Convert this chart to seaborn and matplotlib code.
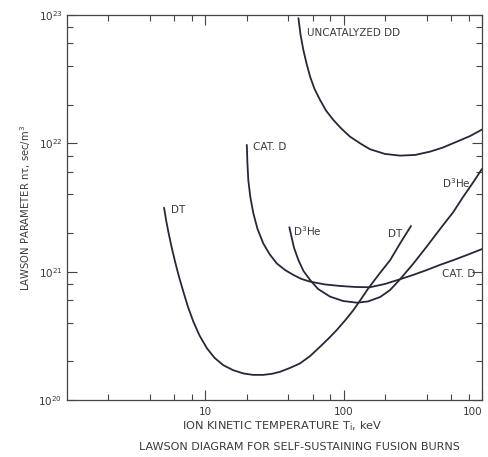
import numpy as np
import pandas as pd
import matplotlib
matplotlib.use("Agg")
import matplotlib.pyplot as plt
import matplotlib.ticker as mticker
import seaborn as sns

# ---- data ----
dt_T = [5.05, 5.22, 5.42, 5.72, 6.06, 6.48, 6.96, 7.52, 8.22, 9.11, 10.3, 11.7, 13.5, 15.9,
        18.9, 22.2, 26.3, 30.4, 34.8, 41.1, 48.5, 57.3, 67.6, 77.3, 89.3, 102.5, 118, 134,
        151, 181, 217, 256, 307]
dt_nt = [3.15e21, 2.53e21, 2.05e21, 1.56e21, 1.20e21, 9.09e20, 6.98e20, 5.31e20, 4.08e20,
         3.18e20, 2.53e20, 2.13e20, 1.87e20, 1.71e20, 1.61e20, 1.57e20, 1.57e20, 1.60e20,
         1.66e20, 1.78e20, 1.93e20, 2.20e20, 2.60e20, 2.99e20, 3.51e20, 4.17e20, 5.03e20,
         6.13e20, 7.42e20, 9.60e20, 1.23e21, 1.66e21, 2.27e21]

catd_T = [20.0, 20.2, 20.5, 21.2, 22.3, 23.9, 26.3, 29.2, 32.9, 37.8, 43.4, 49.7, 57.3, 73.5,
          94.3, 121, 155, 199, 256, 318, 399, 498, 621, 794, 1000]
catd_nt = [9.72e21, 7.03e21, 5.18e21, 3.82e21, 2.85e21, 2.15e21, 1.66e21, 1.37e21, 1.16e21,
           1.03e21, 9.43e20, 8.77e20, 8.36e20, 7.95e20, 7.74e20, 7.60e20, 7.56e20, 8.02e20,
           8.73e20, 9.43e20, 1.03e21, 1.13e21, 1.23e21, 1.36e21, 1.50e21]

dhe3_T = [40.6, 42.1, 43.9, 47.2, 51.4, 57.3, 65.4, 79.9, 99.2, 125, 150, 184, 217, 256, 318,
          399, 498, 621, 730, 867, 1000]
dhe3_nt = [2.22e21, 1.86e21, 1.53e21, 1.23e21, 1.01e21, 8.62e20, 7.33e20, 6.39e20, 5.91e20,
           5.73e20, 5.86e20, 6.35e20, 7.20e20, 8.73e20, 1.15e21, 1.57e21, 2.15e21, 2.92e21,
           3.82e21, 5.00e21, 6.32e21]

dd_T = [47.2, 48.9, 51.2, 54.1, 57.3, 61.7, 67.6, 74.7, 84.4, 95.9, 111, 132, 155, 199, 256,
        329, 422, 524, 658, 820, 1000]
dd_nt = [9.44e22, 7.00e22, 5.35e22, 4.16e22, 3.31e22, 2.65e22, 2.18e22, 1.80e22, 1.52e22,
         1.31e22, 1.13e22, 9.98e21, 9.00e21, 8.27e21, 8.02e21, 8.12e21, 8.62e21, 9.29e21,
         1.03e22, 1.14e22, 1.28e22]

x_ticks = [10, 100, 1000]
x_tick_labels = ["10", "100", "100"]
y_ticks = [1e20, 1e21, 1e22, 1e23]

curve_labels = ["UNCATALYZED DD", "CAT. D", "DT", "D$^3$He", "DT", "D$^3$He", "CAT. D"]
label_T = [54.4, 22.3, 5.64, 43.4, 211, 512, 512]
label_nt = [6.8e22, 8.9e21, 2.85e21, 1.91e21, 1.87e21, 4.47e21, 9.14e20]

# ---- plotting ----
sns.set_style("ticks")
plt.rcParams["font.family"] = ["DejaVu Sans"]
plt.rcParams["mathtext.default"] = "regular"

ink = "#27273a"
txt = "#3a3a3a"

fig = plt.figure(figsize=(4.88, 4.57), dpi=100)
ax = fig.add_axes([0.1367, 0.1247, 0.851, 0.8425])

frames = [
    pd.DataFrame({"T": dt_T, "nt": dt_nt, "curve": "DT"}),
    pd.DataFrame({"T": catd_T, "nt": catd_nt, "curve": "CAT. D"}),
    pd.DataFrame({"T": dhe3_T, "nt": dhe3_nt, "curve": "D3He"}),
    pd.DataFrame({"T": dd_T, "nt": dd_nt, "curve": "UNCATALYZED DD"}),
]
df = pd.concat(frames, ignore_index=True)
sns.lineplot(data=df, x="T", y="nt", units="curve", estimator=None, sort=False,
             color=ink, linewidth=1.3, ax=ax, legend=False)

ax.set_xscale("log")
ax.set_yscale("log")
ax.set_xlim(1, 1000)
ax.set_ylim(1e20, 1e23)

ax.xaxis.set_major_locator(mticker.FixedLocator(x_ticks))
ax.xaxis.set_major_formatter(mticker.FixedFormatter(x_tick_labels))
ax.xaxis.set_minor_locator(mticker.LogLocator(base=10, subs=(2, 4, 6, 8)))
ax.xaxis.set_minor_formatter(mticker.NullFormatter())
ax.yaxis.set_major_locator(mticker.FixedLocator(y_ticks))
ax.yaxis.set_major_formatter(mticker.LogFormatterMathtext())
ax.yaxis.set_minor_locator(mticker.LogLocator(base=10, subs=(2, 4, 6, 8)))
ax.yaxis.set_minor_formatter(mticker.NullFormatter())

ax.tick_params(which="both", direction="in", top=True, right=True, color="#444444",
               labelcolor=txt, labelsize=7.5)
ax.tick_params(which="major", length=7, width=0.8)
ax.tick_params(which="minor", length=4.3, width=0.8)
ax.tick_params(axis="x", which="major", pad=5)
ax.tick_params(axis="y", which="major", pad=3)
ax.get_xticklabels()[-1].set_ha("right")

for s in ax.spines.values():
    s.set_color("#444444")
    s.set_linewidth(0.9)

ax.set_xlabel("ION KINETIC TEMPERATURE T$_{i}$, keV", fontsize=8.2, color=txt)
ax.xaxis.set_label_coords(0.518, -0.05)
ax.set_ylabel("LAWSON PARAMETER n\u03c4, sec/m$^3$", fontsize=7.2, color=txt)
ax.yaxis.set_label_coords(-0.08, 0.5)

for s, xv, yv in zip(curve_labels, label_T, label_nt):
    ax.text(xv, yv, s, fontsize=7.5, color=txt, ha="left", va="baseline")

fig.text(0.6127, 0.0225, "LAWSON DIAGRAM FOR SELF-SUSTAINING FUSION BURNS",
         fontsize=8, color=txt, ha="center", va="center")

fig.savefig("out.png", dpi=100, facecolor="white")
